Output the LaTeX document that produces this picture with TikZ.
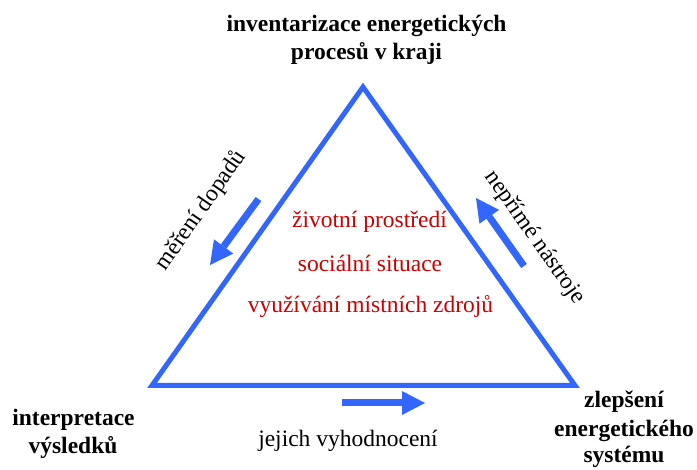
\documentclass[tikz,border=0pt]{standalone}
\usepackage{fontspec}
\setmainfont{Liberation Serif}
\usetikzlibrary{arrows.meta}
\definecolor{triblue}{RGB}{51,102,255}
\definecolor{topicred}{RGB}{204,0,0}
\begin{document}
\begin{tikzpicture}[x=1pt,y=-1pt,
  lbl/.style={font=\fontsize{23.5}{28}\selectfont, inner sep=0pt, anchor=base},
  corner/.style={lbl, font=\fontsize{23.5}{28}\selectfont\bfseries},
  topic/.style={lbl, text=topicred},
  flow/.style={triblue, line width=7pt,
    -{Triangle[length=23pt,width=24pt,line width=0pt]}},
  edgeline/.style={triblue, line width=5pt, line join=miter}]
\useasboundingbox (0,0) rectangle (697,470);

% triangle of the three stages
\coordinate (apex) at (363,87);
\coordinate (left) at (152,385.5);
\coordinate (right) at (575,385.5);
\draw[edgeline] (apex) -- (left) -- (right) -- cycle;

% corner labels
\node[corner] (top1) at (366.5,32) {inventarizace energetických};
\node[corner] (top2) at (366.5,60) {procesů v kraji};
\node[corner] (bl1) at (73.5,426) {interpretace};
\node[corner] (bl2) at (73,454) {výsledků};
\node[corner] (br1) at (624,408) {zlepšení};
\node[corner] (br2) at (624,437) {energetického};
\node[corner] (br3) at (624,463) {systému};

% topics inside the triangle
\node[topic] (t1) at (369.5,228) {životní prostředí};
\node[topic] (t2) at (370,272) {sociální situace};
\node[topic] (t3) at (370.5,313) {využívání místních zdrojů};

% flow arrows along the sides
\coordinate (m1) at (258.5,199);
\coordinate (m2) at (210,265);
\draw[flow] (m1) -- (m2);
\coordinate (n1) at (524,266);
\coordinate (n2) at (476,198);
\draw[flow] (n1) -- (n2);
\coordinate (v1) at (342,403);
\coordinate (v2) at (425,403);
\draw[flow] (v1) -- (v2);

% side labels
\node[lbl, rotate=55] (meas) at (206,214) {měření dopadů};
\node[lbl, rotate=-55] (tools) at (530,241) {nepřímé nástroje};
\node[lbl] (eval) at (348,447) {jejich vyhodnocení};
\end{tikzpicture}
\end{document}
